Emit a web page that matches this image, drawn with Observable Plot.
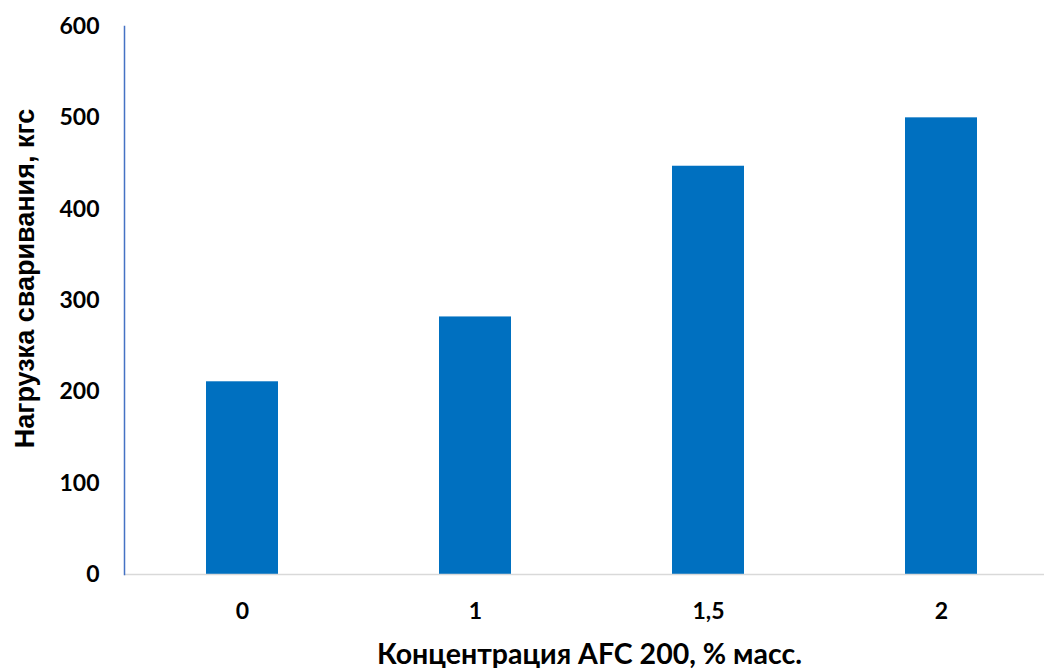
<!DOCTYPE html>
<html>
<head>
<meta charset="utf-8">
<script src="https://cdn.jsdelivr.net/npm/d3@7"></script>
<script src="https://cdn.jsdelivr.net/npm/@observablehq/plot@0.6"></script>
<style>
  html, body { margin: 0; padding: 0; background: #fff; }
  #chart svg { display: block; overflow: visible; }
  g[aria-label="x-axis tick label"] text, g[aria-label="y-axis tick label"] text { font-family: Lato, "Open Sans", sans-serif; font-weight: 700; fill: #000; }
</style>
</head>
<body>
<div id="chart"></div>
<script>
const categories = ["0", "1", "1,5", "2"];
const values = [211, 282, 447, 500];
const yTicks = [0, 100, 200, 300, 400, 500, 600];
const xTitle = "Концентрация AFC 200, % масс.";
const yTitle = "Нагрузка сваривания, кгс";

const data = categories.map((c, i) => ({c, v: values[i]}));

const chart = Plot.plot({
  width: 1044,
  height: 668,
  marginTop: 26,
  marginBottom: 94,
  marginLeft: 124,
  marginRight: 0,
  style: {background: "#fff", overflow: "visible"},
  x: {type: "band", domain: categories, range: [124, 1059], paddingInner: 0.69, paddingOuter: 0.345, align: 0.5, label: null},
  y: {domain: [0, 600], ticks: yTicks, label: null},
  marks: [
    Plot.barY(data, {x: "c", y: "v", fill: "#0070C0"}),
    Plot.ruleY([0], {stroke: "#d9d9d9", strokeWidth: 1.5}),
    Plot.frame({anchor: "left", stroke: "#4472C4", strokeWidth: 1.5}),
    Plot.axisY({ticks: yTicks, tickSize: 0, tickPadding: 25, fontSize: 23, label: null}),
    Plot.axisX({tickSize: 0, tickPadding: 28, fontSize: 23, label: null}),
    Plot.text([xTitle], {text: d => d, frameAnchor: "bottom", textAnchor: "middle", dx: 5, dy: 89, fontSize: 28.5, fontWeight: 700, fontFamily: "Lato, 'Open Sans', sans-serif", fill: "#000"}),
    Plot.text([yTitle], {text: d => d, frameAnchor: "left", textAnchor: "middle", rotate: -90, dx: -99, dy: -22, fontSize: 27, fontWeight: 700, fontFamily: "'Liberation Sans', Arial, sans-serif", fill: "#000"})
  ]
});
document.getElementById("chart").append(chart);
</script>
</body>
</html>
